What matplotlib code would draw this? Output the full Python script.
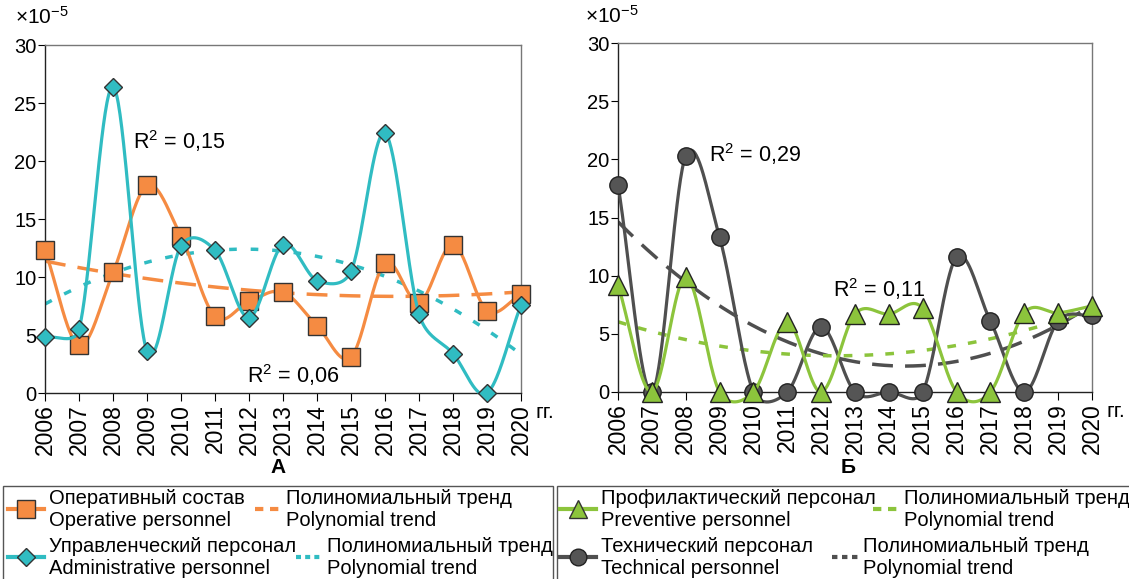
import numpy as np
import matplotlib
matplotlib.use("Agg")
import matplotlib.pyplot as plt
from matplotlib.lines import Line2D
from matplotlib.patches import Rectangle

plt.rcParams['font.family'] = ['Liberation Sans', 'DejaVu Sans']
plt.rcParams['mathtext.fontset'] = 'custom'
plt.rcParams['mathtext.rm'] = 'Liberation Sans'
plt.rcParams['mathtext.it'] = 'Liberation Sans'

years = list(range(2006, 2021))

# panel A
operative = [12.3, 4.1, 10.4, 17.9, 13.5, 6.6, 7.9, 8.7, 5.8, 3.1, 11.2, 7.8, 12.8, 7.1, 8.5]
administrative = [4.8, 5.5, 26.4, 3.6, 12.7, 12.3, 6.5, 12.8, 9.7, 10.5, 22.4, 6.8, 3.4, 0.0, 7.6]
# panel B
preventive = [9.2, 0.0, 9.9, 0.0, 0.0, 6.0, 0.0, 6.7, 6.7, 7.2, 0.0, 0.0, 6.8, 6.8, 7.4]
technical = [17.8, 0.0, 20.3, 13.3, 0.0, 0.0, 5.6, 0.0, 0.0, 0.0, 11.6, 6.1, 0.0, 6.1, 6.6]

c_orange = '#F58B42'
c_cyan = '#30BCC2'
c_green = '#8CC43C'
c_gray = '#4F4F4F'


def smooth(x, y, kx=34.0, ky=11.6, clamp=0.5, n=40):
    # bezier "smoothed line" through the points, worked out in screen pixels
    P = np.column_stack([np.asarray(x, float) * kx, np.asarray(y, float) * ky])
    m = len(P)
    T = np.zeros_like(P)
    T[0] = (P[1] - P[0]) / 3
    T[-1] = (P[-1] - P[-2]) / 3
    for i in range(1, m - 1):
        T[i] = (P[i + 1] - P[i - 1]) / 6
    t = np.linspace(0, 1, n)[:, None]
    out = []
    for i in range(m - 1):
        d = np.linalg.norm(P[i + 1] - P[i])
        a, b = T[i].copy(), T[i + 1].copy()
        for v in (a, b):
            L = np.linalg.norm(v)
            if L > clamp * d:
                v *= clamp * d / L
        c1, c2 = P[i] + a, P[i + 1] - b
        out.append((1 - t) ** 3 * P[i] + 3 * (1 - t) ** 2 * t * c1 + 3 * (1 - t) * t ** 2 * c2 + t ** 3 * P[i + 1])
    out = np.vstack(out)
    return out[:, 0] / kx, out[:, 1] / ky


def trend(x, y, deg=2):
    xx = np.linspace(x[0], x[-1], 200)
    c = np.polyfit(np.asarray(x) - x[0], y, deg)
    return xx, np.polyval(c, xx - x[0])


fig = plt.figure(figsize=(11.29, 5.79), dpi=100)
axA = fig.add_axes([0.0399, 0.3212, 0.4216, 0.601])
axB = fig.add_axes([0.5474, 0.323, 0.4198, 0.6027])


def style(ax):
    ax.set_xlim(2006, 2020)
    ax.set_ylim(0, 30)
    ax.set_yticks([0, 5, 10, 15, 20, 25, 30])
    ax.set_xticks(years)
    ax.set_xticklabels([str(y) for y in years], rotation=90, fontsize=16.5)
    ax.tick_params(axis='y', labelsize=14.5, direction='out', length=5, pad=1)
    ax.tick_params(axis='x', direction='out', length=6, pad=2)
    ax.spines['left'].set_color('#222222')
    ax.spines['bottom'].set_color('#222222')
    ax.spines['top'].set_color('#777777')
    ax.spines['right'].set_color('#777777')
    for s in ax.spines.values():
        s.set_linewidth(1.0)
    ax.text(1.03, -0.03, 'гг.', transform=ax.transAxes, fontsize=15, va='top', ha='left')


style(axA)
style(axB)

# panel A
tx, ty = trend(years, operative)
axA.plot(tx, ty, color=c_orange, lw=2.5, dashes=(6, 3.5), zorder=2)
tx, ty = trend(years, administrative)
axA.plot(tx, ty, color=c_cyan, lw=2.5, dashes=(2.2, 4), zorder=2)
sx, sy = smooth(years, operative)
axA.plot(sx, sy, color=c_orange, lw=2.3, zorder=3, clip_on=False)
axA.plot(years, operative, ls='none', marker='s', ms=13.5, mfc=c_orange, mec='#333333', mew=1.0,
         zorder=4, clip_on=False)
sx, sy = smooth(years, administrative)
axA.plot(sx, sy, color=c_cyan, lw=2.3, zorder=5, clip_on=False)
axA.plot(years, administrative, ls='none', marker='D', ms=9.5, mfc=c_cyan, mec='#333333', mew=1.0,
         zorder=6, clip_on=False)
axA.text(2008.6, 21.0, 'R$^2$ = 0,15', fontsize=15.5, ha='left', va='baseline')
axA.text(2011.95, 0.85, 'R$^2$ = 0,06', fontsize=15.5, ha='left', va='baseline')

# panel B
tx, ty = trend(years, technical)
axB.plot(tx, ty, color=c_gray, lw=2.5, dashes=(6, 3.5), zorder=2)
tx, ty = trend(years, preventive)
axB.plot(tx, ty, color=c_green, lw=2.5, dashes=(2.5, 3.5), zorder=2)
sx, sy = smooth(years, technical)
axB.plot(sx, sy, color=c_gray, lw=2.3, zorder=3, clip_on=False)
axB.plot(years, technical, ls='none', marker='o', ms=12.5, mfc='#555555', mec='#222222', mew=1.0,
         zorder=4, clip_on=False)
sx, sy = smooth(years, preventive)
axB.plot(sx, sy, color=c_green, lw=2.3, zorder=5, clip_on=False)
axB.plot(years, preventive, ls='none', marker='^', ms=14, mfc=c_green, mec='#222222', mew=1.0,
         zorder=6, clip_on=False)
axB.text(2008.7, 19.8, 'R$^2$ = 0,29', fontsize=15.5, ha='left', va='baseline')
axB.text(2012.35, 8.2, 'R$^2$ = 0,11', fontsize=15.5, ha='left', va='baseline')

fig.text(0.013, 0.952, r'$\times$10$^{-5}$', fontsize=15, va='bottom')
fig.text(0.518, 0.954, r'$\times$10$^{-5}$', fontsize=15, va='bottom')
fig.text(0.246, 0.192, 'А', fontsize=15, fontweight='bold', ha='center', va='center')
fig.text(0.751, 0.192, 'Б', fontsize=15, fontweight='bold', ha='center', va='center')

# legend frames
W, H = 1129.0, 579.0
for x0, x1 in ((3, 553), (557, 1135)):
    fig.patches.append(Rectangle((x0 / W, -0.02), (x1 - x0) / W, 0.02 + 1 - 486 / H,
                                 transform=fig.transFigure, fill=False, ec='#555555', lw=1.0))

# legend entries: (handle, label, left px, centre px, handle length)
entries = [
    (Line2D([], [], color=c_orange, lw=3, marker='s', ms=13, mfc=c_orange, mec='#333333'),
     'Оперативный состав\nOperative personnel', 8, 509, 1.8),
    (Line2D([], [], color=c_cyan, lw=3, marker='D', ms=9.5, mfc=c_cyan, mec='#333333'),
     'Управленческий персонал\nAdministrative personnel', 8, 557, 1.8),
    (Line2D([], [], color=c_orange, lw=3, dashes=(2, 1.6)),
     'Полиномиальный тренд\nPolynomial trend', 255, 509, 1.3),
    (Line2D([], [], color=c_cyan, lw=3, dashes=(1.2, 1.0)),
     'Полиномиальный тренд\nPolynomial trend', 296, 557, 1.3),
    (Line2D([], [], color=c_green, lw=3, marker='^', ms=13, mfc=c_green, mec='#333333'),
     'Профилактический персонал\nPreventive personnel', 560, 509, 1.8),
    (Line2D([], [], color=c_gray, lw=3, marker='o', ms=12, mfc='#555555', mec='#222222'),
     'Технический персонал\nTechnical personnel', 560, 557, 1.8),
    (Line2D([], [], color=c_green, lw=3, dashes=(2, 1.6)),
     'Полиномиальный тренд\nPolynomial trend', 873, 509, 1.3),
    (Line2D([], [], color=c_gray, lw=3, dashes=(1.3, 1.1)),
     'Полиномиальный тренд\nPolynomial trend', 832, 557, 1.3),
]
for h, lab, xp, yp, hl in entries:
    fig.legend([h], [lab], loc='center left', bbox_to_anchor=(xp / W, 1 - yp / H),
               fontsize=14.5, frameon=False, borderpad=0, borderaxespad=0,
               handlelength=hl, handletextpad=0.25)

fig.savefig('out.png', dpi=100)
